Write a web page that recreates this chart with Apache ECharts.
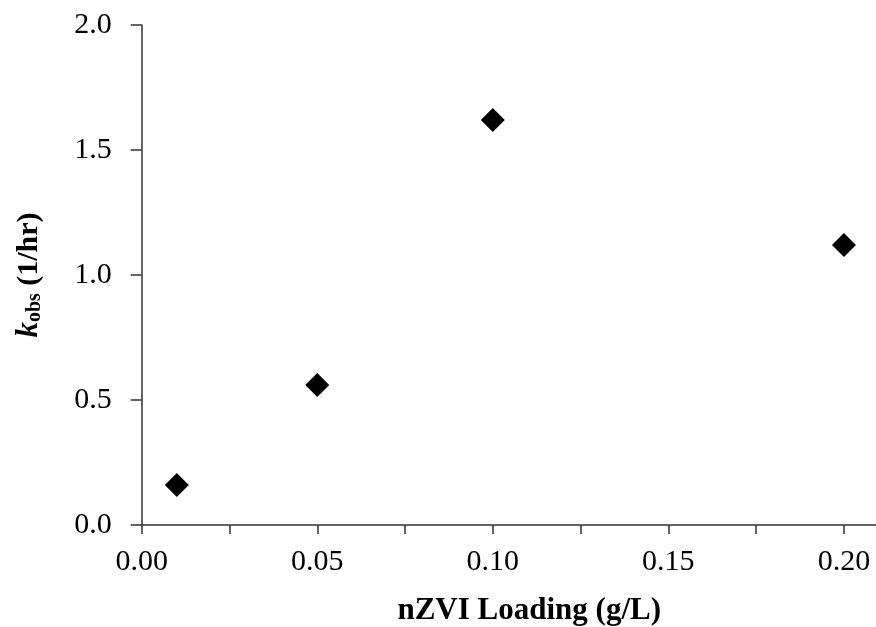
<!DOCTYPE html>
<html>
<head>
<meta charset="utf-8">
<script src="https://cdn.jsdelivr.net/npm/echarts@6/dist/echarts.min.js"></script>
<style>html,body{margin:0;padding:0;background:#fff}#c{width:876px;height:627px}</style>
</head>
<body>
<div id="c"></div>
<script>
var loading = [0.01, 0.05, 0.10, 0.20];
var kobs = [0.16, 0.56, 1.62, 1.12];
var xTickLabels = ['0.00', '0.05', '0.10', '0.15', '0.20'];
var yTickLabels = ['0.0', '0.5', '1.0', '1.5', '2.0'];

var chart = echarts.init(document.getElementById('c'));
var font = 'Liberation Serif';
var axisColor = '#333';
chart.setOption({
  animation: false,
  backgroundColor: '#fff',
  grid: {left: 141.7, top: 25, height: 500, width: 790, containLabel: false, outerBoundsMode: 'none'},
  xAxis: {
    type: 'value', min: 0, max: 0.225, interval: 0.025,
    name: 'nZVI Loading (g/L)', nameLocation: 'middle', nameGap: 70,
    nameTextStyle: {fontFamily: font, fontWeight: 'bold', fontSize: 31, color: '#000', padding: [0, 15, 0, 0]},
    axisLine: {lineStyle: {color: axisColor, width: 1.5}},
    axisTick: {inside: false, length: 9, lineStyle: {color: axisColor, width: 1.5}},
    splitLine: {show: false},
    axisLabel: {
      margin: 22, fontFamily: font, fontSize: 30, color: '#000',
      formatter: function (v) {
        var i = Math.round(v / 0.05);
        if (Math.abs(v - i * 0.05) > 1e-6) return '';
        return xTickLabels[i] || '';
      }
    }
  },
  yAxis: {
    type: 'value', min: 0, max: 2, interval: 0.5,
    name: '{k|k}{sub|obs}{n| (1/hr)}', nameLocation: 'middle', nameGap: 97, nameRotate: 90,
    nameTextStyle: {
      fontFamily: font, color: '#000',
      rich: {
        k: {fontFamily: font, fontWeight: 'bold', fontStyle: 'italic', fontSize: 31, color: '#000'},
        sub: {fontFamily: font, fontWeight: 'bold', fontSize: 20, color: '#000', verticalAlign: 'bottom', padding: [9, 0, 0, 0]},
        n: {fontFamily: font, fontWeight: 'bold', fontSize: 30, color: '#000'}
      }
    },
    axisLine: {show: true, lineStyle: {color: axisColor, width: 1.5}},
    axisTick: {show: true, length: 11, lineStyle: {color: axisColor, width: 1.5}},
    splitLine: {show: false},
    axisLabel: {
      margin: 30, fontFamily: font, fontSize: 30, color: '#000',
      formatter: function (v) { return yTickLabels[Math.round(v / 0.5)]; }
    }
  },
  series: [{
    type: 'scatter',
    symbol: 'diamond', symbolSize: 24,
    itemStyle: {color: '#000', opacity: 1},
    data: loading.map(function (x, i) { return [x, kobs[i]]; })
  }]
});
</script>
</body>
</html>
